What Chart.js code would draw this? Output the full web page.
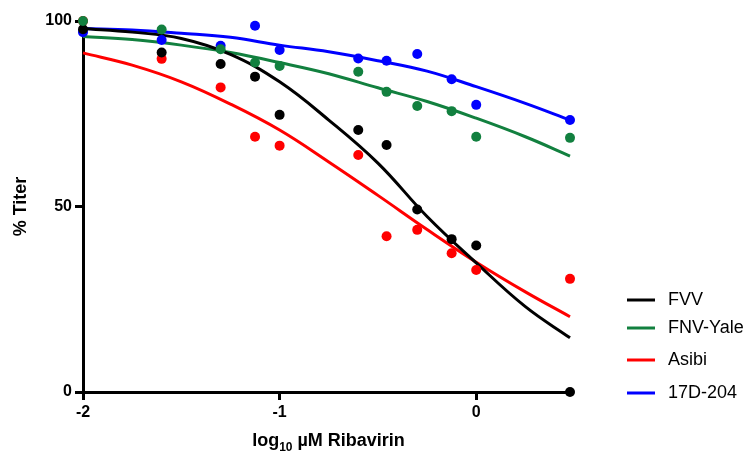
<!DOCTYPE html>
<html>
<head>
<meta charset="utf-8">
<script src="https://cdn.jsdelivr.net/npm/chart.js@4.4.0/dist/chart.umd.min.js"></script>
<style>
  html, body { margin: 0; padding: 0; background: #fff; }
  #wrap { width: 749px; height: 453px; position: relative; }
</style>
</head>
<body>
<div id="wrap"><canvas id="ribavirinChart"></canvas></div>
<script>
// log10 uM ribavirin doses used for the measured points
var doseX = [-2, -1.6, -1.3, -1.125, -1, -0.6, -0.456, -0.3, -0.125, 0, 0.477];

// measured % titer per strain
var fvvPts   = [97.8, 91.5, 88.4, 85.0, 74.7, 70.6, 66.6, 49.2, 41.2, 39.5, 0];
var fnvPts   = [100, 97.7, 92.4, 88.8, 87.9, 86.3, 80.9, 77.1, 75.7, 68.8, 68.5];
var asibiPts = [100, 89.8, 82.1, 68.8, 66.4, 63.9, 42.0, 43.7, 37.4, 32.9, 30.5];
var d17Pts   = [97.0, 94.9, 93.3, 98.7, 92.2, 89.9, 89.3, 91.1, 84.3, 77.4, 73.3];

// fitted curves
var curveX     = [-2, -1.75, -1.5, -1.25, -1, -0.75, -0.5, -0.25, 0, 0.25, 0.477];
var fvvCurve   = [98, 97, 95.3, 91, 83.6, 73.3, 61.7, 47.3, 34.8, 23, 14.6];
var fnvCurve   = [95.8, 95.0, 93.5, 91.5, 88.8, 85.8, 82.0, 78.3, 73.8, 68.8, 63.6];
var asibiCurve = [91.4, 88.1, 83.6, 77.6, 70.6, 62, 53, 43.8, 35, 27, 20.3];
var d17Curve   = [98, 97.6, 96.7, 95.6, 93.5, 91.7, 89.3, 86.5, 82.3, 77.8, 73.3];

var seriesNames = ['FVV', 'FNV-Yale', 'Asibi', '17D-204'];
var xTicks = [-2, -1, 0];
var yTicks = [0, 50, 100];

(function() {
    var colors = ['#000000', '#12803f', '#ff0000', '#0000ff'];
    var pointSets = [fvvPts, fnvPts, asibiPts, d17Pts];
    var curveSets = [fvvCurve, fnvCurve, asibiCurve, d17Curve];
    var pointOrder = [1, 0, 2, 3]; // green dots sit on top, blue at the bottom
    var font = '"Liberation Sans", Arial, Helvetica, sans-serif';

    function pairs(xs, ys) {
        return ys.map(function(y, i) { return { x: xs[i], y: y }; });
    }

    var datasets = [];
    seriesNames.forEach(function(name, i) {
        datasets.push({
            label: name,
            data: pairs(doseX, pointSets[i]),
            showLine: false,
            pointRadius: 5,
            pointHoverRadius: 5,
            pointBorderWidth: 0,
            backgroundColor: colors[i],
            borderColor: colors[i],
            order: pointOrder[i],
            clip: false
        });
    });
    seriesNames.forEach(function(name, i) {
        datasets.push({
            label: name + ' fit',
            data: pairs(curveX, curveSets[i]),
            showLine: true,
            tension: 0.4,
            pointRadius: 0,
            borderWidth: 3,
            borderColor: colors[i],
            backgroundColor: colors[i],
            fill: false,
            order: 4 + i,
            clip: false
        });
    });

    // legend on the right plus the x title with a real subscript
    var extras = {
        id: 'extras',
        afterDraw: function(chart) {
            var ctx = chart.ctx;
            var rows = [300, 328, 360, 393];
            ctx.save();
            ctx.textBaseline = 'middle';
            ctx.textAlign = 'left';
            ctx.font = '18px ' + font;
            seriesNames.forEach(function(name, i) {
                ctx.strokeStyle = colors[i];
                ctx.lineWidth = 3;
                ctx.beginPath();
                ctx.moveTo(627, rows[i]);
                ctx.lineTo(655, rows[i]);
                ctx.stroke();
                ctx.fillStyle = '#000';
                ctx.fillText(name, 668, rows[i]);
            });

            var area = chart.chartArea;
            var mainFont = 'bold 18px ' + font;
            var subFont = 'bold 12px ' + font;
            ctx.textBaseline = 'alphabetic';
            ctx.font = mainFont;
            var w1 = ctx.measureText('log').width;
            var w3 = ctx.measureText(' \u00b5M Ribavirin').width;
            ctx.font = subFont;
            var w2 = ctx.measureText('10').width;
            var x = (area.left + area.right) / 2 - (w1 + w2 + w3) / 2 + 2;
            var base = 446;
            ctx.fillStyle = '#000';
            ctx.font = mainFont;
            ctx.fillText('log', x, base);
            ctx.font = subFont;
            ctx.fillText('10', x + w1, base + 5);
            ctx.font = mainFont;
            ctx.fillText(' \u00b5M Ribavirin', x + w1 + w2, base);
            ctx.restore();
        }
    };

    var tickFont = { family: font, size: 16, weight: 'bold' };
    var axisGrid = {
        display: true,
        drawOnChartArea: false,
        drawTicks: true,
        tickLength: 8,
        tickWidth: 3,
        tickColor: '#000'
    };

    var ctx = document.getElementById('ribavirinChart').getContext('2d');
    new Chart(ctx, {
        type: 'scatter',
        data: { datasets: datasets },
        plugins: [extras],
        options: {
            responsive: true,
            maintainAspectRatio: false,
            animation: false,
            layout: { padding: { top: 21, right: 179, left: 6, bottom: 0 } },
            plugins: {
                legend: { display: false },
                tooltip: { enabled: false }
            },
            scales: {
                x: {
                    type: 'linear',
                    min: -2,
                    max: 0.477,
                    afterBuildTicks: function(scale) {
                        scale.ticks = xTicks.map(function(v) { return { value: v }; });
                    },
                    afterFit: function(scale) { scale.height = 61; },
                    ticks: {
                        font: tickFont,
                        color: '#000',
                        padding: 3,
                        callback: function(v) { return String(v); }
                    },
                    grid: axisGrid,
                    border: { display: true, width: 3, color: '#000' },
                    title: { display: false }
                },
                y: {
                    min: 0,
                    max: 100,
                    afterBuildTicks: function(scale) {
                        scale.ticks = yTicks.map(function(v) { return { value: v }; });
                    },
                    afterFit: function(scale) { scale.width = 77; },
                    ticks: {
                        font: tickFont,
                        color: '#000',
                        padding: 3,
                        callback: function(v) { return String(v); }
                    },
                    grid: axisGrid,
                    border: { display: true, width: 3, color: '#000' },
                    title: {
                        display: true,
                        text: '% Titer',
                        color: '#000',
                        font: { family: font, size: 18, weight: 'bold' },
                        padding: { top: 4, bottom: 4 }
                    }
                }
            }
        }
    });
})();
</script>
</body>
</html>
